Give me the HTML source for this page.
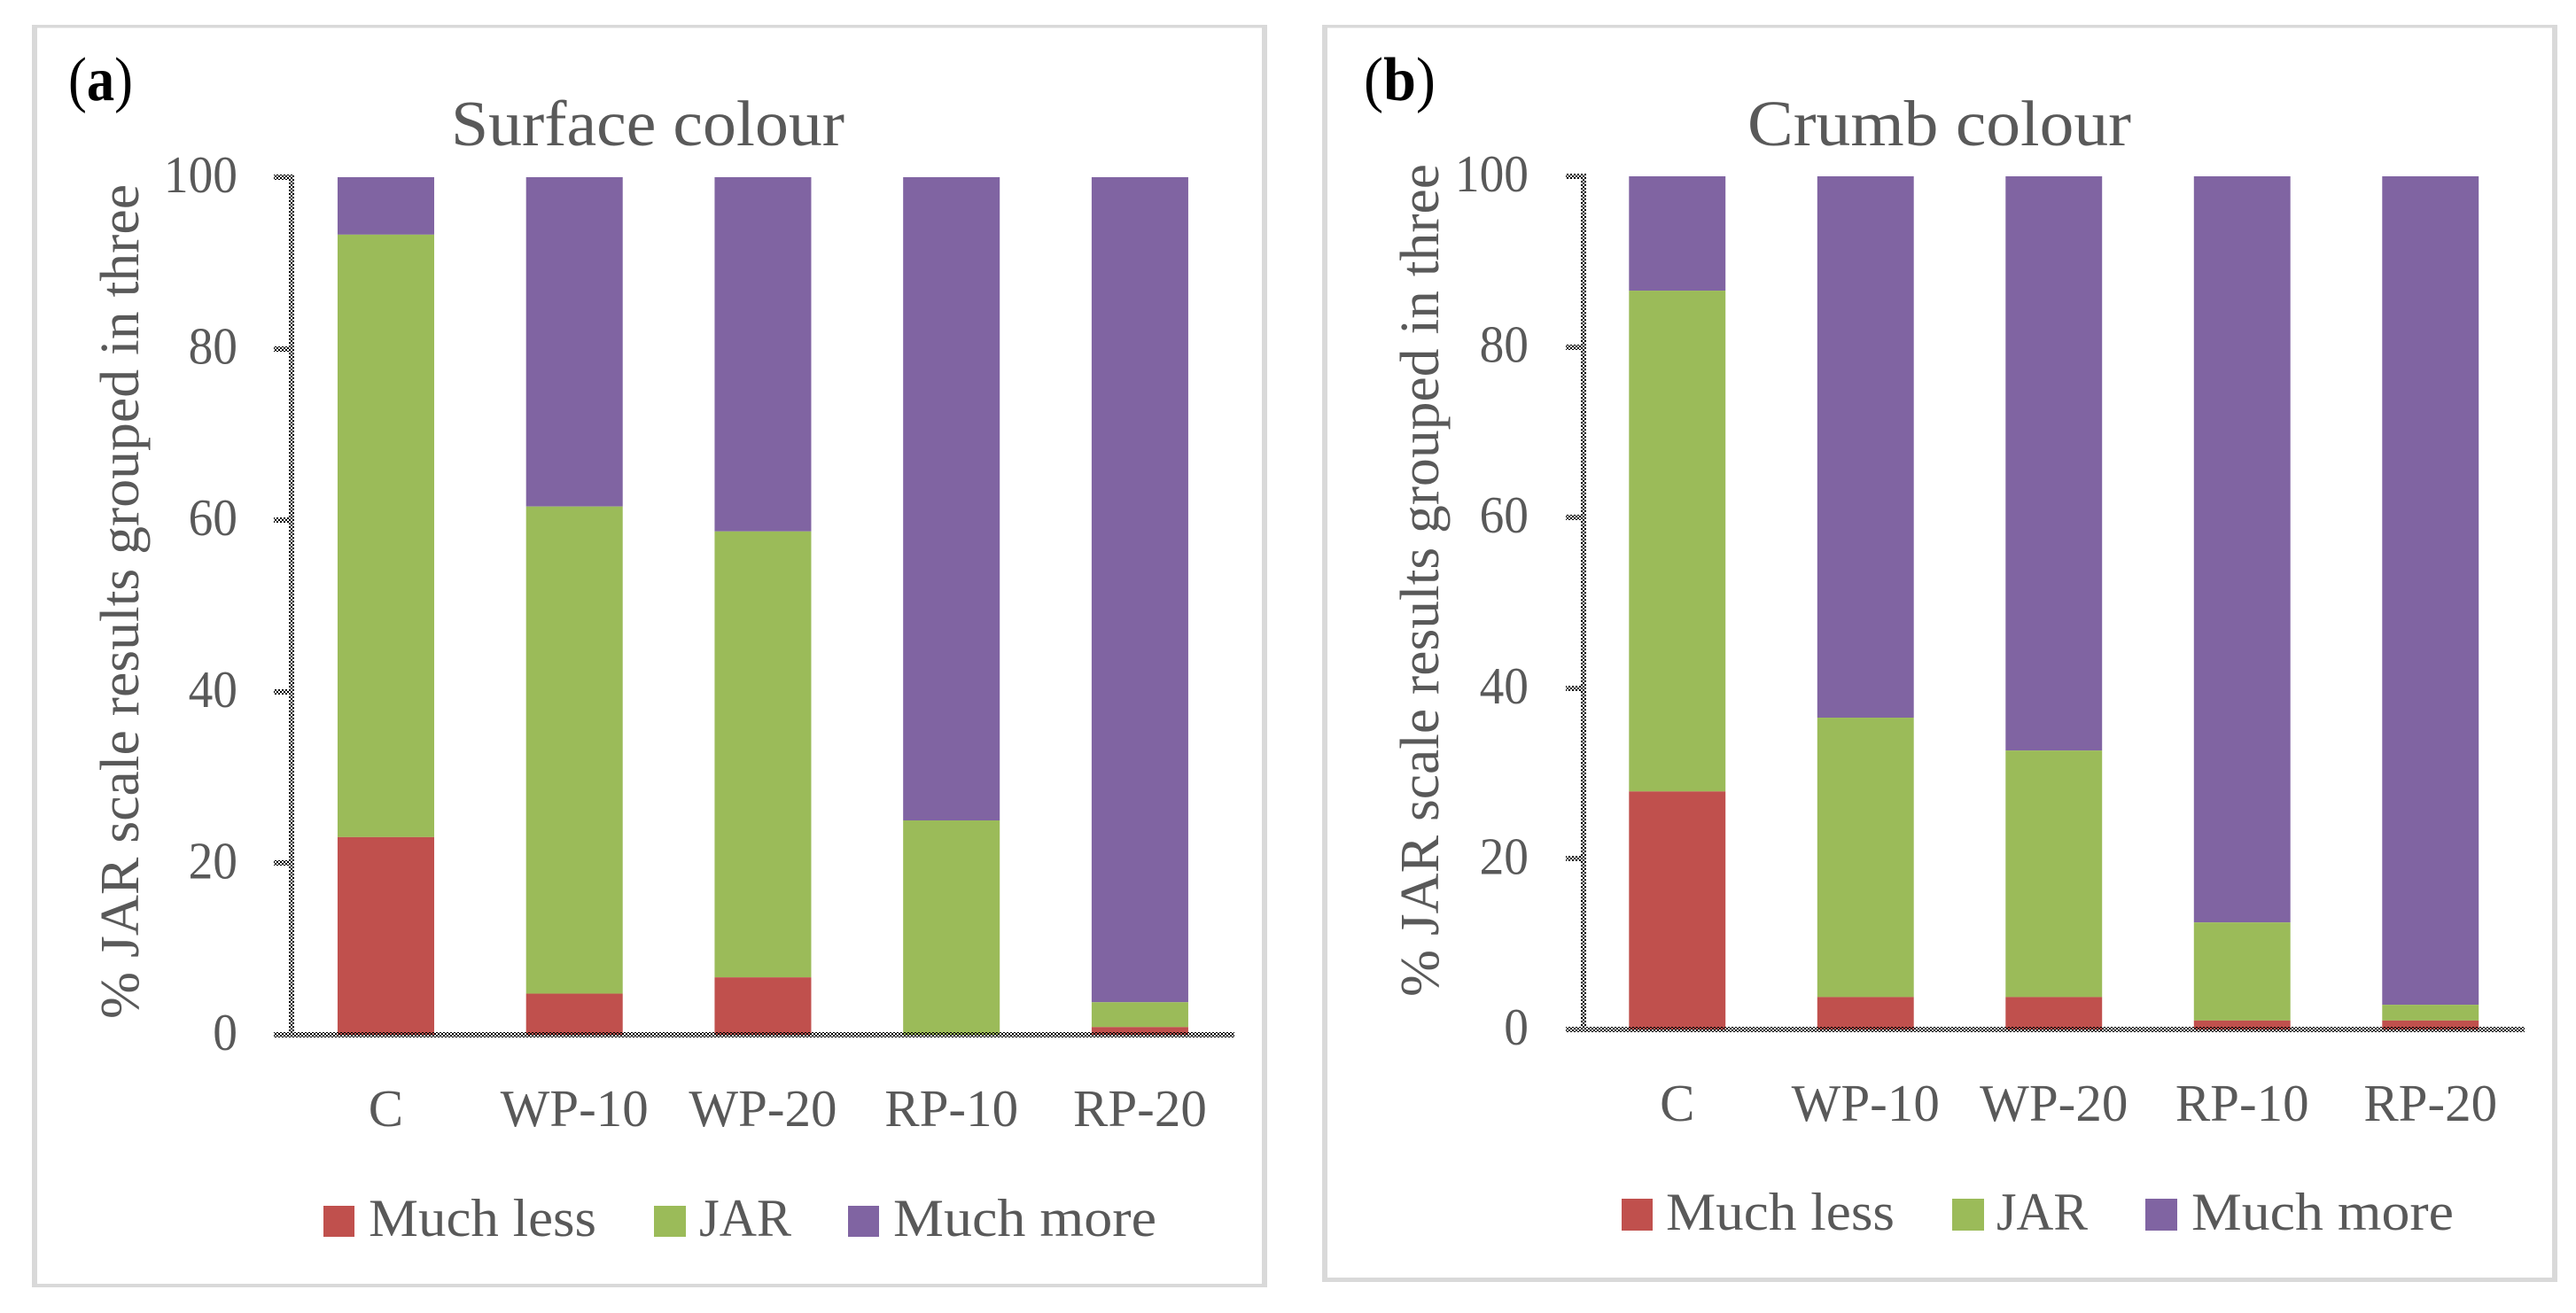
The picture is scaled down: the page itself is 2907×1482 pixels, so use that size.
<!DOCTYPE html>
<html lang="en">
<head>
<meta charset="utf-8">
<title>JAR scale results: surface and crumb colour</title>
<style>
html,body{margin:0;padding:0;background:#fff;}
svg{display:block;}
text{font-family:"Liberation Serif",serif;fill:#595959;}
</style>
</head>
<body>
<svg id="figure" xmlns="http://www.w3.org/2000/svg" width="2907" height="1482" viewBox="0 0 2907 1482">
  <defs>
    <pattern id="dither" width="4" height="4" patternUnits="userSpaceOnUse">
      <rect x="0" y="0" width="2" height="2" fill="#000" shape-rendering="crispEdges"/>
      <rect x="2" y="2" width="2" height="2" fill="#000" shape-rendering="crispEdges"/>
    </pattern>
  </defs>
  <rect x="0" y="0" width="2907" height="1482" fill="#ffffff"/>

  <g fill="#d9d9d9">
    <rect x="36" y="28" width="1394" height="3.5"/>
    <rect x="36" y="1449" width="1394" height="4"/>
    <rect x="36" y="28" width="6" height="1425"/>
    <rect x="1424" y="28" width="6" height="1425"/>
  </g>
  <g fill="#d9d9d9">
    <rect x="1492" y="28" width="1394" height="3.5"/>
    <rect x="1492" y="1442" width="1394" height="5"/>
    <rect x="1492" y="28" width="6" height="1419"/>
    <rect x="2880" y="28" width="6" height="1419"/>
  </g>

  <text x="77" y="113" font-size="70" textLength="73" lengthAdjust="spacingAndGlyphs" style="fill:#000">(<tspan font-weight="700" style="fill:#000">a</tspan>)</text>
  <text x="1539" y="113" font-size="70" textLength="81" lengthAdjust="spacingAndGlyphs" style="fill:#000">(<tspan font-weight="700" style="fill:#000">b</tspan>)</text>

  <text x="509" y="164" font-size="73" textLength="444" lengthAdjust="spacingAndGlyphs">Surface colour</text>
  <text x="1972" y="164" font-size="73" textLength="433" lengthAdjust="spacingAndGlyphs">Crumb colour</text>

  <text transform="translate(156,1150) rotate(-90)" x="0" y="0" font-size="62" textLength="942" lengthAdjust="spacingAndGlyphs">% JAR scale results grouped in three</text>
  <text transform="translate(1623,1125) rotate(-90)" x="0" y="0" font-size="62" textLength="940" lengthAdjust="spacingAndGlyphs">% JAR scale results grouped in three</text>

  <g id="plot-a"></g>
  <g id="plot-b"></g>

  <g>
    <g>
      <rect x="365" y="1361" width="35" height="35" fill="#c0504d"/>
      <text x="416" y="1395" font-size="60" textLength="257" lengthAdjust="spacingAndGlyphs">Much less</text>
    </g>
    <g>
      <rect x="738" y="1361" width="36" height="35" fill="#9bbb59"/>
      <text x="789" y="1395" font-size="60" textLength="104" lengthAdjust="spacingAndGlyphs">JAR</text>
    </g>
    <g>
      <rect x="957" y="1361" width="35" height="35" fill="#8064a2"/>
      <text x="1008" y="1395" font-size="60" textLength="297" lengthAdjust="spacingAndGlyphs">Much more</text>
    </g>
  </g>
  <g>
    <g>
      <rect x="1830" y="1353" width="35" height="36" fill="#c0504d"/>
      <text x="1880" y="1388" font-size="60" textLength="258" lengthAdjust="spacingAndGlyphs">Much less</text>
    </g>
    <g>
      <rect x="2203" y="1353" width="36" height="36" fill="#9bbb59"/>
      <text x="2253" y="1388" font-size="60" textLength="103" lengthAdjust="spacingAndGlyphs">JAR</text>
    </g>
    <g>
      <rect x="2421" y="1353" width="36" height="36" fill="#8064a2"/>
      <text x="2473" y="1388" font-size="60" textLength="296" lengthAdjust="spacingAndGlyphs">Much more</text>
    </g>
  </g>
</svg>

<script>
const categories = ['C', 'WP-10', 'WP-20', 'RP-10', 'RP-20'];
const tickLabels = ['0', '20', '40', '60', '80', '100'];
const surfaceMuchLess = [23.05, 4.8, 6.7, 0, 0.9];
const surfaceJar = [70.25, 56.8, 52.0, 25.0, 2.9];
const surfaceMuchMore = [6.7, 38.4, 41.3, 75.0, 96.2];
const crumbMuchLess = [27.9, 3.8, 3.8, 1.05, 1.05];
const crumbJar = [58.7, 32.75, 28.9, 11.5, 1.85];
const crumbMuchMore = [13.4, 63.45, 67.3, 87.45, 97.1];

const SVG_NS = 'http://www.w3.org/2000/svg';
const DITHER = 'url(#dither)';

function make(parent, tag, props) {
  const el = document.createElementNS(SVG_NS, tag);
  Object.keys(props).forEach(function (key) { el.setAttribute(key, props[key]); });
  parent.appendChild(el);
  return el;
}

function drawPanel(rootId, frame, less, jar, more) {
  const root = document.getElementById(rootId);
  const yScale = function (v) {
    return frame.y0 + (frame.y100 - frame.y0) * v / 100;
  };
  const band = (frame.right - frame.left) / categories.length;
  const xCenter = function (i) {
    return frame.left + band * (i + 0.5);
  };
  const barWidth = band * 0.5125;
  const axisLeft = Math.round(frame.left);
  const axisRight = Math.round(frame.right);

  categories.forEach(function (cat, i) {
    const x = xCenter(i) - barWidth / 2;
    const lessTop = yScale(less[i]);
    const jarTop = yScale(less[i] + jar[i]);
    const moreTop = yScale(less[i] + jar[i] + more[i]);

    const moreBar = make(root, 'rect', { x: x, y: moreTop, width: barWidth, height: jarTop - moreTop, fill: '#8064a2' });
    
    

    const jarBar = make(root, 'rect', { x: x, y: jarTop, width: barWidth, height: lessTop - jarTop, fill: '#9bbb59' });
    
    

    const lessBar = make(root, 'rect', { x: x, y: lessTop, width: barWidth, height: frame.y0 - lessTop, fill: '#c0504d' });
    
    

    const catLabel = make(root, 'text', { x: xCenter(i), y: frame.y0 + 103, 'font-size': 59, 'text-anchor': 'middle' });
    catLabel.textContent = cat;
    
    
  });

  tickLabels.forEach(function (label) {
    const y = yScale(Number(label));

    const tick = make(root, 'rect', { x: axisLeft - 20, y: Math.round(y) - 3, width: 23, height: 6, fill: DITHER, 'shape-rendering': 'crispEdges' });
    
    

    const tickText = make(root, 'text', { x: frame.labelRight, y: y + 17, 'font-size': 59, 'text-anchor': 'end', textLength: label.length * 27.7, lengthAdjust: 'spacingAndGlyphs' });
    tickText.textContent = label;
    
    
  });

  const yAxis = make(root, 'rect', { x: axisLeft - 3, y: Math.round(yScale(100)) - 3, width: 6, height: Math.round(yScale(0)) - Math.round(yScale(100)) + 6, fill: DITHER, 'shape-rendering': 'crispEdges' });
  
  

  const xAxis = make(root, 'rect', { x: axisLeft - 20, y: Math.round(yScale(0)) - 3, width: axisRight - axisLeft + 20, height: 6, fill: DITHER, 'shape-rendering': 'crispEdges' });
  
  
}

drawPanel('plot-a', { left: 329.1, right: 1392.8, y0: 1168, y100: 200, labelRight: 268 }, surfaceMuchLess, surfaceJar, surfaceMuchMore);
drawPanel('plot-b', { left: 1786.5, right: 2849, y0: 1162, y100: 199, labelRight: 1725 }, crumbMuchLess, crumbJar, crumbMuchMore);
</script>
</body>
</html>
